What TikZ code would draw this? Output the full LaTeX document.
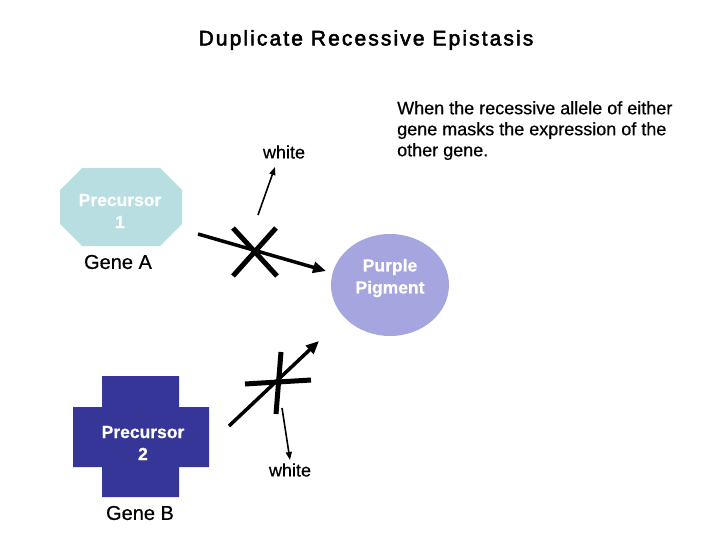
\documentclass[tikz,border=0pt]{standalone}
\usepackage{fontspec}
\setmainfont[FakeBold=0.6]{Liberation Sans}
\newfontfamily\titlefont[LetterSpace=10,FakeBold=2.5]{Liberation Sans}
\usetikzlibrary{arrows.meta,shapes.geometric}
\definecolor{prelight}{HTML}{B9DEE2}
\definecolor{prenavy}{HTML}{363699}
\definecolor{pigment}{HTML}{A5A5E0}
\tikzset{
  x=1pt, y=-1pt,
  plain/.style={inner sep=0pt, font=\fontsize{18}{21}\selectfont, text=black},
  boxtext/.style={inner sep=0pt, align=center, text=white, font=\fontsize{17.5}{22}\selectfont\bfseries},
  bar/.style={line width=5pt, black},
  thickarrow/.style={line width=3.5pt, black, -{Triangle[length=13pt,width=11pt]}},
  thinarrow/.style={line width=1.6pt, black, -{Triangle[length=8pt,width=6pt]}},
}
\begin{document}
\begin{tikzpicture}
\useasboundingbox (0,0) rectangle (720,540);
% title
\node[inner sep=0pt, font=\titlefont\fontsize{21}{24}\selectfont] (title) at (366,40) {Duplicate Recessive Epistasis};
% explanation
\node[plain, anchor=north west, align=left] (expl) at (397,101) {When the recessive allele of either\\gene masks the expression of the\\other gene.};
% precursor 1 (octagon)
\fill[prelight] (82,168) -- (160,168) -- (182,190) -- (182,224) -- (160,246) -- (82,246) -- (60,224) -- (60,190) -- cycle;
\node[boxtext] (p1) at (120,211) {Precursor\\1};
\node[plain, font=\fontsize{20}{22}\selectfont] (geneA) at (118,262) {Gene A};
% precursor 2 (cross)
\fill[prenavy] (102,376) -- (179,376) -- (179,407) -- (209,407) -- (209,467) -- (179,467) -- (179,497) -- (102,497) -- (102,467) -- (73,467) -- (73,407) -- (102,407) -- cycle;
\node[boxtext] (p2) at (143,443) {Precursor\\2};
\node[plain, font=\fontsize{20}{22}\selectfont] (geneB) at (140,513) {Gene B};
% purple pigment
\node[ellipse, fill=pigment, minimum width=118pt, minimum height=102pt, inner sep=0pt] (pig) at (390,285) {};
\node[boxtext] (pigtxt) at (390,278) {Purple\\Pigment};
% labels
\node[plain] (w1) at (284,152) {white};
\node[plain] (w2) at (290,470) {white};
% first pathway
\coordinate (a1s) at (198,234);
\coordinate (a1e) at (326,271);
\draw[thickarrow] (a1s) -- (a1e);
\coordinate (x1a) at (233,228);
\coordinate (x1b) at (277,276);
\coordinate (x1c) at (276,228);
\coordinate (x1d) at (233,276);
\draw[bar] (x1a) -- (x1b);
\draw[bar] (x1c) -- (x1d);
\coordinate (u1s) at (258,215);
\coordinate (u1e) at (275,167);
\draw[thinarrow] (u1s) -- (u1e);
% second pathway
\coordinate (a2s) at (229,426);
\coordinate (a2e) at (319,341);
\draw[thickarrow] (a2s) -- (a2e);
\coordinate (h2a) at (245,384);
\coordinate (h2b) at (311,380);
\draw[bar] (h2a) -- (h2b);
\coordinate (v2a) at (281,352);
\coordinate (v2b) at (276,414);
\draw[bar] (v2a) -- (v2b);
\coordinate (d2s) at (282,408);
\coordinate (d2e) at (290,460);
\draw[thinarrow] (d2s) -- (d2e);
\end{tikzpicture}
\end{document}
